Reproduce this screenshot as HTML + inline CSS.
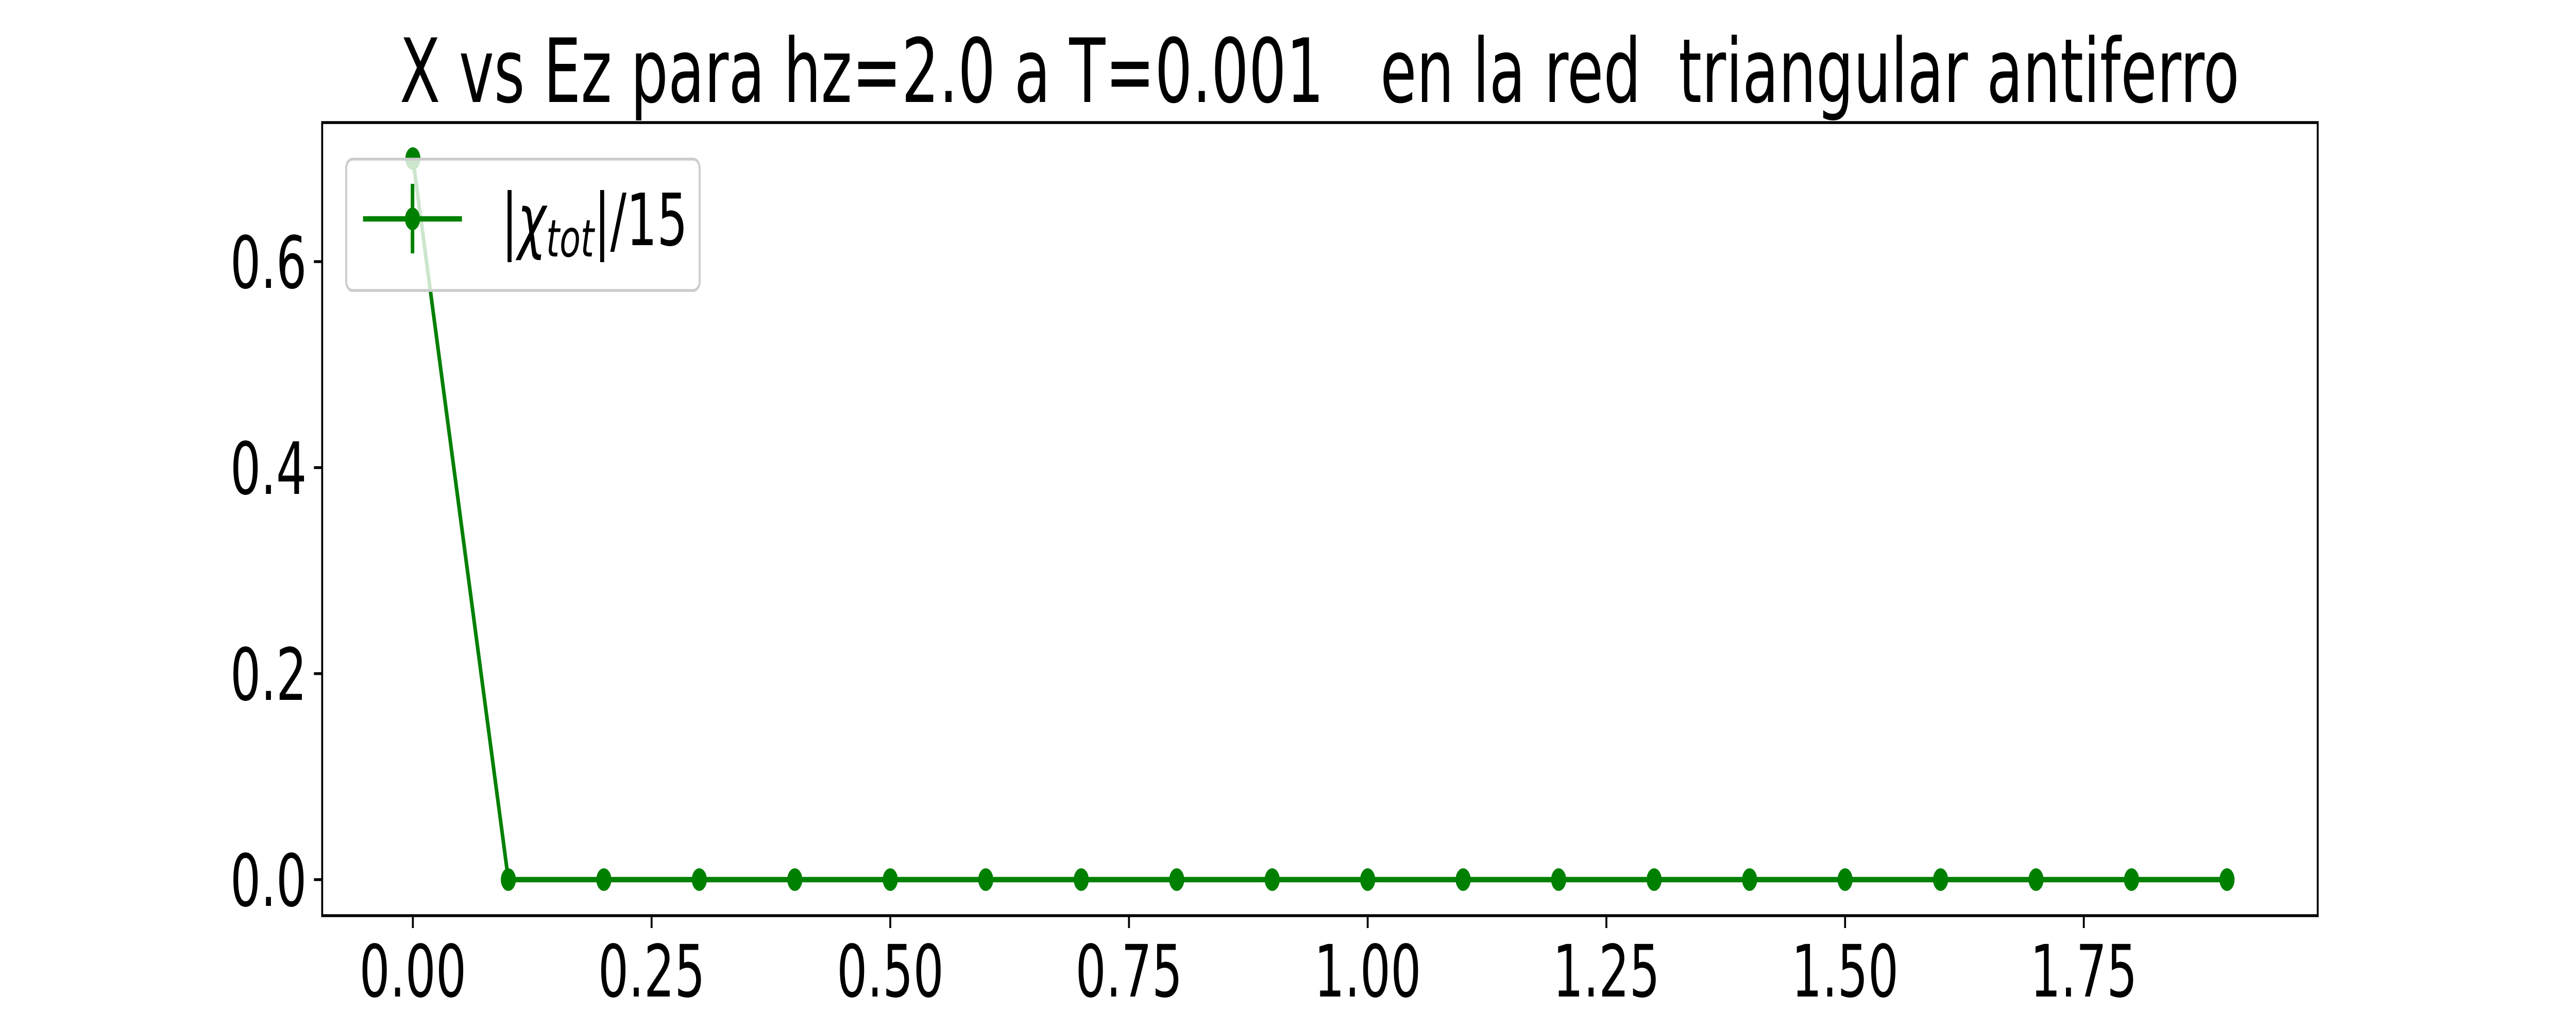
<!DOCTYPE html>
<html><head><meta charset="utf-8"><style>
html,body{margin:0;padding:0;background:#fff;width:100%;height:100%;overflow:hidden;}
svg{display:block;width:100vw;height:100vh;}
text{font-family:"DejaVu Sans","Liberation Sans",sans-serif;fill:#000;}
</style></head><body>
<svg id="chart" viewBox="0 0 7500 2000" preserveAspectRatio="none" xmlns="http://www.w3.org/2000/svg">
<rect width="7500" height="2000" fill="#fff"/>
<text x="3842" y="198" font-size="172" text-anchor="middle" xml:space="preserve" style="white-space:pre">X vs Ez para hz=2.0 a T=0.001   en la red  triangular antiferro</text>
<g id="plot"></g>
<g id="axes"></g>
<text x="3842" y="2110" font-size="140" text-anchor="middle">T</text>
</svg>
<script>
const xValues = [0,0.1,0.2,0.3,0.4,0.5,0.6,0.7,0.8,0.9,1.0,1.1,1.2,1.3,1.4,1.5,1.6,1.7,1.8,1.9];
const yValues = [0.7,0,0,0,0,0,0,0,0,0,0,0,0,0,0,0,0,0,0,0];
const xTicks = [0,0.25,0.5,0.75,1.0,1.25,1.5,1.75];
const xTickLabels = ["0.00","0.25","0.50","0.75","1.00","1.25","1.50","1.75"];
const yTicks = [0,0.2,0.4,0.6];
const yTickLabels = ["0.0","0.2","0.4","0.6"];

const L=938,R=6748,T=238,B=1778;
const xmin=Math.min(...xValues), xmax=Math.max(...xValues);
const ymin=Math.min(...yValues), ymax=Math.max(...yValues);
const xr=(xmax-xmin)||1, yr=(ymax-ymin)||1;
const x0=xmin-0.05*xr, x1=xmax+0.05*xr, y0=ymin-0.05*yr, y1=ymax+0.05*yr;
function sx(v){return L+(v-x0)/(x1-x0)*(R-L);}
function sy(v){return B-(v-y0)/(y1-y0)*(B-T);}
const NS="http://www.w3.org/2000/svg";
function mk(tag,attrs,parent){const e=document.createElementNS(NS,tag);for(const k in attrs)e.setAttribute(k,attrs[k]);parent.appendChild(e);return e;}
const plot=document.getElementById('plot'), axes=document.getElementById('axes');

const pts=xValues.map((x,i)=>sx(x).toFixed(1)+','+sy(yValues[i]).toFixed(1)).join(' ');
const line=mk('polyline',{points:pts,fill:'none',stroke:'#008000','stroke-width':10.4,'stroke-linejoin':'round'},plot);


xValues.forEach((x,i)=>{
  const c=mk('circle',{cx:sx(x),cy:sy(yValues[i]),r:22,fill:'#008000'},plot);
  
  
});

const frame=mk('rect',{x:L,y:T,width:R-L,height:B-T,fill:'none',stroke:'#000','stroke-width':5.6},axes);


xTicks.forEach((v,i)=>{
  const tk=mk('line',{x1:sx(v),x2:sx(v),y1:B,y2:B+24,stroke:'#000','stroke-width':5.6},axes);
  
  
  const t=mk('text',{x:sx(v),y:1935,'font-size':140,'text-anchor':'middle'},axes);
  t.textContent=xTickLabels[i];
  
  
});
yTicks.forEach((v,i)=>{
  const tk=mk('line',{x1:L-24,x2:L,y1:sy(v),y2:sy(v),stroke:'#000','stroke-width':5.6},axes);
  
  
  const t=mk('text',{x:L-45,y:sy(v)+51,'font-size':140,'text-anchor':'end'},axes);
  t.textContent=yTickLabels[i];
  
  
});

const lg=mk('g',{},axes);


mk('rect',{x:1008,y:309,width:1029,height:255,rx:18,fill:'#fff','fill-opacity':0.8,stroke:'#cccccc','stroke-width':5.6},lg);
mk('line',{x1:1057,x2:1345,y1:425,y2:425,stroke:'#008000','stroke-width':10.4},lg);
mk('line',{x1:1201,x2:1201,y1:357,y2:492,stroke:'#008000','stroke-width':10.4},lg);
mk('circle',{cx:1201,cy:425,r:22,fill:'#008000'},lg);
const lt=mk('text',{x:1460,y:476,'font-size':140},lg);


lt.innerHTML='|<tspan font-style="italic">χ</tspan><tspan font-style="italic" font-size="100" dy="22">tot</tspan><tspan dy="-22">|/15</tspan>';
</script>
</body></html>
